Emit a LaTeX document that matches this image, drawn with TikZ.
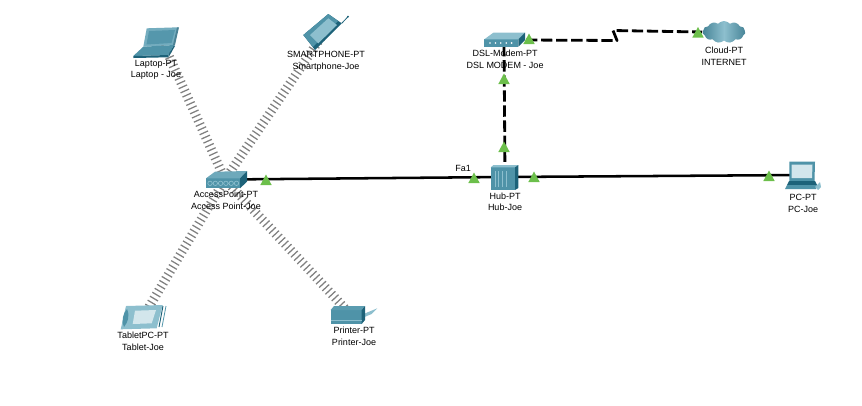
\documentclass[tikz,border=0pt]{standalone}
\usepackage{fontspec}
\setmainfont{Liberation Sans}
\usetikzlibrary{shapes.symbols}

\definecolor{devmid}{HTML}{4F93A8}
\definecolor{devdark}{HTML}{1D6279}
\definecolor{devlight}{HTML}{8DBFCE}
\definecolor{devscreen}{HTML}{D3E6EC}
\definecolor{lightgreen}{HTML}{6CBF4B}

\tikzset{
  every picture/.style={line width=0.75pt},
  wireless/.style={line width=7pt,black!50,dash pattern=on 0.95pt off 2.5pt},
  copper/.style={line width=1.9pt,black},
  serial/.style={line width=2.1pt,black,dash pattern=on 8.5pt off 2.8pt},
  devlabel/.style={font=\fontsize{6.75pt}{8.6pt}\selectfont,align=center,inner sep=0pt,text=black},
  pics/linklight/.style={code={\fill[lightgreen] (-5.7,-5) -- (0,5.5) -- (5.7,-5) -- cycle;}}
}

\begin{document}
\begin{tikzpicture}[x=0.75pt,y=0.75pt,yscale=-1]
\useasboundingbox (0,0) rectangle (862,405);

% Device centres
\coordinate (laptop) at (163,43);
\coordinate (phone) at (324,33);
\coordinate (ap) at (225,179.5);
\coordinate (tablet) at (143,317);
\coordinate (printer) at (352,316);
\coordinate (hub) at (505,177);
\coordinate (modem) at (504,42);
\coordinate (modemport) at (526,40);
\coordinate (pc) at (803,175);
\coordinate (bendA) at (617,40.5);
\coordinate (bendB) at (613,30.5);

% Wireless links
\draw [wireless] (ap) -- (laptop);
\draw [wireless] (ap) -- (phone);
\draw [wireless] (ap) -- (tablet);
\draw [wireless] (ap) -- (printer);

% Cloud
\node [cloud,cloud puffs=11,cloud puff arc=100,aspect=2,inner sep=0pt,minimum width=32pt,minimum height=16.5pt,
  left color=devmid!90!black,right color=devmid!90!black,middle color=devlight] (inet) at (724,32) {};

% Cables
\draw [copper] (ap) -- (hub);
\draw [copper] (hub) -- (pc);
\draw [serial] (hub) -- (modem);
\draw [serial,line join=round] (modemport) -- (bendA) -- (bendB) -- (inet.west);

% Laptop
\fill [devlight!60!devmid] (146.7,28.3) -- (178.3,27.3) -- (174,45) -- (143.3,46.7) -- cycle;
\fill [devdark!80] (177,27.5) -- (179,27.3) -- (175,45) -- (173,45) -- cycle;
\fill [devmid!90!devlight] (149,31) -- (175,30) -- (171.5,43) -- (146.5,44.5) -- cycle;
\fill [devmid] (133.3,56) -- (143.3,46.7) -- (174,45) -- (168.3,55) -- cycle;
\fill [devdark] (133.3,56) -- (168.3,55) -- (168,57.3) -- (133.3,58) -- cycle;
\fill [devdark] (168.3,55) -- (174,45) -- (175,46) -- (168.5,57.3) -- cycle;

% Smartphone
\fill [devdark] (303.3,35) -- (328.3,14) -- (341.7,23.3) -- (315,50) -- cycle;
\fill [devmid] (303.3,35) -- (328.3,14) -- (338,21) -- (313,47) -- cycle;
\fill [devlight] (310,35) -- (328.3,18.3) -- (337,25) -- (318.3,43.3) -- cycle;
\draw [devdark,line width=0.6pt] (341.7,23.3) -- (348,16.7);
\fill [devdark] (348,16.7) circle (1);

% Access point
\fill [devmid] (206,178.3) -- (240,178.3) -- (240,188.3) -- (206,188.3) -- cycle;
\fill [devlight!50!devmid] (206,178.3) -- (215,171.7) -- (247,171) -- (240,178.3) -- cycle;
\fill [devdark] (240,178.3) -- (247,171) -- (247,181.7) -- (240,188.3) -- cycle;
\draw [devlight,line width=0.5pt] (210,183.3) circle (2.2) (215.3,183.3) circle (2.2) (220.6,183.3) circle (2.2)
  (225.9,183.3) circle (2.2) (231.2,183.3) circle (2.2) (236.5,183.3) circle (2.2);

% Tablet
\fill [devlight] (126,306) -- (162.7,305) -- (156.7,328.3) -- (120.7,329.3) -- cycle;
\fill [devmid] (127,309) .. controls (130,316) and (128,322) .. (124,327) .. controls (121,322) and (123,313) .. (127,309) -- cycle;
\fill [devscreen] (135,310.7) -- (156,310) -- (151.7,323.3) -- (132.7,324) -- cycle;
\draw [devdark,line width=0.7pt] (159,327) -- (163,306);
\draw [devmid,line width=0.6pt] (162,327) -- (166,306);

% Printer
\fill [devlight] (361,315) -- (377.3,308.3) -- (371.7,314) -- (362,318) -- cycle;
\fill [devmid] (330.7,310) -- (361.7,310) -- (361.7,324) -- (330.7,324) -- cycle;
\fill [devmid!80!devlight] (330.7,310) -- (334,306) -- (365,306) -- (361.7,310) -- cycle;
\fill [devdark] (361.7,310) -- (365,306) -- (365,320) -- (361.7,324) -- cycle;
\draw [devlight,line width=0.5pt] (330.7,320) -- (361.7,320);

% Hub
\fill [devmid] (490.7,167.3) -- (515,167.3) -- (515,190) -- (490.7,190) -- cycle;
\fill [devlight] (490.7,167.3) -- (493.5,165) -- (518.3,165) -- (515,167.3) -- cycle;
\fill [devdark] (515,167.3) -- (518.3,165) -- (518.3,188) -- (515,190) -- cycle;
\draw [devlight,line width=0.6pt] (495,171) -- (495,187) (498.5,171) -- (498.5,187) (502,171) -- (502,187) (506,171) -- (506,187);

% DSL modem
\fill [devmid] (484.3,39.3) -- (518.3,39.3) -- (518.3,46.7) -- (484.3,46.7) -- cycle;
\fill [devlight] (484.3,39.3) -- (493.3,32.7) -- (525,32.7) -- (518.3,39.3) -- cycle;
\fill [devdark] (518.3,39.3) -- (525,32.7) -- (525,40) -- (518.3,46.7) -- cycle;
\fill [white] (490,43) circle (0.9) (495.4,43) circle (0.9) (500.8,43) circle (0.9) (506.2,43) circle (0.9) (511.6,43) circle (0.9);

% PC
\fill [devmid] (789.3,161.7) -- (815,161.7) -- (814.5,181) -- (789.3,181) -- cycle;
\fill [devscreen] (791.5,164.5) -- (812.5,164.5) -- (812,178) -- (791.5,178) -- cycle;
\fill [devdark] (789,181) -- (815,181) -- (817,185) -- (787,185) -- cycle;
\fill [devmid] (787,185) -- (817,185) -- (816,189) -- (785,189) -- cycle;
\fill [devlight] (815,187) -- (820,182) -- (821,187) -- (818,190) -- cycle;

% Link lights
\pic at (266,180) {linklight};
\pic at (474,178) {linklight};
\pic at (534,177) {linklight};
\pic at (769,176) {linklight};
\pic at (504,147) {linklight};
\pic at (504,79) {linklight};
\pic at (529,39) {linklight};
\pic at (698,32.5) {linklight};

% Text Node
\node [devlabel] (laptoplabel) at (156,70) {Laptop-PT\\Laptop - Joe};
% Text Node
\node [devlabel] (phonelabel) at (326,61.5) {SMARTPHONE-PT\\Smartphone-Joe};
% Text Node
\node [devlabel] (aplabel) at (226,200.5) {AccessPoint-PT\\Access Point-Joe};
% Text Node
\node [devlabel] (tabletlabel) at (143,341.5) {TabletPC-PT\\Tablet-Joe};
% Text Node
\node [devlabel] (printerlabel) at (354,336.5) {Printer-PT\\Printer-Joe};
% Text Node
\node [devlabel] (modemlabel) at (505,59.5) {DSL-Modem-PT\\DSL MODEM - Joe};
% Text Node
\node [devlabel] (hublabel) at (505,202) {Hub-PT\\Hub-Joe};
% Text Node
\node [devlabel] (cloudlabel) at (724,56) {Cloud-PT\\INTERNET};
% Text Node
\node [devlabel] (pclabel) at (803,203.5) {PC-PT\\PC-Joe};
% Text Node
\node [devlabel,fill=white,inner sep=1pt] (fa) at (463,168.5) {Fa1};

\end{tikzpicture}
\end{document}
